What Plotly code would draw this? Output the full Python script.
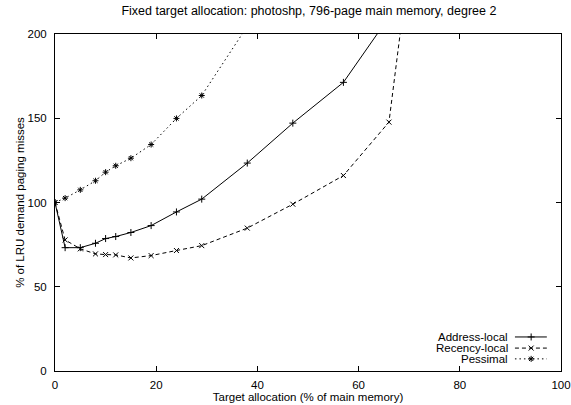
import plotly.graph_objects as go

# Data
x_addr = [0, 2, 5, 8, 10, 12, 15, 19, 24, 29, 38, 47, 57, 66]
y_addr = [100, 73.2, 73.2, 75.8, 78.6, 79.8, 82.2, 86.3, 94.4, 102, 123.4, 147.1, 171.3, 210]

x_rec = [0, 2, 5, 8, 10, 12, 15, 19, 24, 29, 38, 47, 57, 66, 76]
y_rec = [100, 77.8, 72.5, 69.5, 69.1, 68.9, 67.1, 68.5, 71.5, 74.4, 84.8, 99, 116, 147.7, 385]

x_pes = [0, 2, 5, 8, 10, 12, 15, 19, 24, 29, 38]
y_pes = [100, 102.6, 107.5, 112.9, 118, 121.8, 126.3, 134.4, 149.9, 163.5, 204.6]

series_names = ["Address-local", "Recency-local", "Pessimal"]
x_ticks = [0, 20, 40, 60, 80, 100]
y_ticks = [0, 50, 100, 150, 200]

FONT = "Liberation Sans, Arial, sans-serif"
FS = 11.5
styles = [
    dict(dash="solid", symbol="cross-thin-open", size=5),
    dict(dash="4px,3px", symbol="x-thin-open", size=5),
    dict(dash="1.5px,3px", symbol="asterisk-open", size=5),
]

fig = go.Figure()
data = [(x_addr, y_addr), (x_rec, y_rec), (x_pes, y_pes)]
for (xs, ys), name, st in zip(data, series_names, styles):
    fig.add_trace(go.Scatter(
        x=xs, y=ys, name=name, mode="lines+markers",
        line=dict(color="black", width=1, dash=st["dash"]),
        marker=dict(symbol=st["symbol"], size=st["size"], color="black",
                    line=dict(color="black", width=1)),
        showlegend=False, cliponaxis=True,
    ))

# Custom gnuplot-style key (text left of sample) on an overlay axis
key_rows = [0.101, 0.068, 0.036]
for name, st, ky in zip(series_names, styles, key_rows):
    fig.add_trace(go.Scatter(
        x=[0.909, 0.941, 0.972], y=[ky, ky, ky], xaxis="x2", yaxis="y2",
        mode="lines", line=dict(color="black", width=1, dash=st["dash"]),
        showlegend=False, hoverinfo="skip",
    ))
    fig.add_trace(go.Scatter(
        x=[0.941], y=[ky], xaxis="x2", yaxis="y2", mode="markers",
        marker=dict(symbol=st["symbol"], size=st["size"], color="black",
                    line=dict(color="black", width=1)),
        showlegend=False, hoverinfo="skip",
    ))
    fig.add_annotation(
        x=0.899, y=ky, xref="x2", yref="y2", text=name, showarrow=False,
        xanchor="right", yanchor="middle",
        font=dict(family=FONT, size=FS, color="black"),
    )

axis_common = dict(
    showgrid=False, zeroline=False, showline=True, linecolor="black",
    linewidth=1, mirror="ticks", ticks="inside", ticklen=5,
    tickcolor="black", automargin=False,
    tickfont=dict(family=FONT, size=FS, color="black"),
)

fig.update_layout(
    width=571, height=405,
    margin=dict(l=55, r=10, t=34, b=34),
    paper_bgcolor="white", plot_bgcolor="white",
    title=dict(text="Fixed target allocation: photoshp, 796-page main memory, degree 2",
               x=0.541, xanchor="center", y=0.975, yanchor="middle",
               font=dict(family=FONT, size=12.5, color="black")),
    xaxis=dict(range=[0, 100], tickvals=x_ticks, ticklabelstandoff=3, **axis_common,
               title=dict(text="Target allocation (% of main memory)",
                          font=dict(family=FONT, size=FS, color="black"),
                          standoff=2)),
    yaxis=dict(range=[0, 200], tickvals=y_ticks, ticklabelstandoff=5, **axis_common,
               title=dict(text="% of LRU demand paging misses",
                          font=dict(family=FONT, size=FS, color="black"),
                          standoff=0)),
    xaxis2=dict(range=[0, 1], overlaying="x", visible=False, domain=[0, 1]),
    yaxis2=dict(range=[0, 1], overlaying="y", visible=False, domain=[0, 1]),
    showlegend=False,
)

fig.write_html("out.html", config={"displayModeBar": False},
               post_script="document.body.style.margin='0';")
